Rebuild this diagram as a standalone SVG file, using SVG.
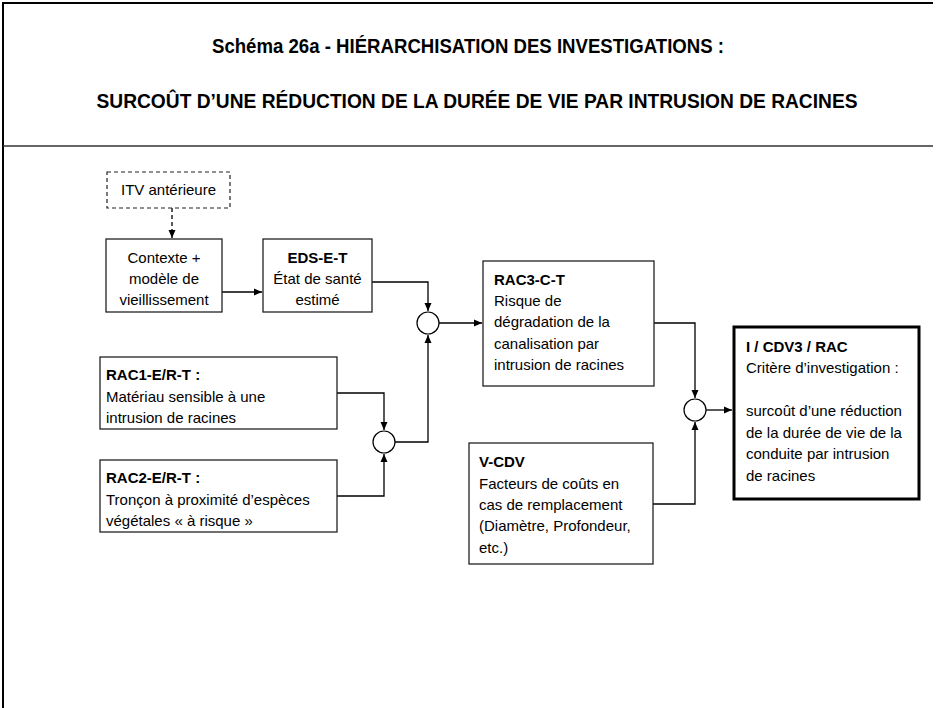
<svg xmlns="http://www.w3.org/2000/svg" width="936" height="708" viewBox="0 0 936 708">
<style>
.t{font-family:"Liberation Sans",Arial,sans-serif;font-size:15px;fill:#000}
.b{font-weight:bold}
.title{font-family:"Liberation Sans",Arial,sans-serif;font-size:20px;font-weight:bold;fill:#000}
.box{fill:#fff;stroke:#222;stroke-width:1.3}
.dash{fill:#fff;stroke:#222;stroke-width:1.2;stroke-dasharray:4,3}
.thick{fill:#fff;stroke:#000;stroke-width:3}
.c{fill:#fff;stroke:#000;stroke-width:1.2}
.ln{fill:none;stroke:#000;stroke-width:1.3}
</style>
<defs>
<marker id="ah" viewBox="0 0 8 8" refX="8" refY="4" markerWidth="8" markerHeight="8" markerUnits="userSpaceOnUse" orient="auto">
<path d="M0,0.5 L8,4 L0,7.5 Z" fill="#000"/>
</marker>
</defs>
<rect width="936" height="708" fill="#fff"/>
<g id="frame">
<line x1="3" y1="3" x2="933" y2="3" stroke="#000" stroke-width="2"/>
<line x1="3" y1="2" x2="3" y2="708" stroke="#000" stroke-width="2"/>
<line x1="3" y1="146" x2="933" y2="146" stroke="#333" stroke-width="1.5"/>
<text class="title" x="468" y="53" text-anchor="middle" textLength="512" lengthAdjust="spacingAndGlyphs">Schéma 26a - HIÉRARCHISATION DES INVESTIGATIONS :</text>
<text class="title" x="477" y="108" text-anchor="middle" textLength="761" lengthAdjust="spacingAndGlyphs">SURCOÛT D’UNE RÉDUCTION DE LA DURÉE DE VIE PAR INTRUSION DE RACINES</text>
</g>
<g id="connectors">
<path class="ln" d="M172,208 V238" stroke-dasharray="4,3" marker-end="url(#ah)"/>
<path class="ln" d="M222,292 H262" marker-end="url(#ah)"/>
<path class="ln" d="M372,282 H428 V311" marker-end="url(#ah)"/>
<path class="ln" d="M439,323 H482" marker-end="url(#ah)"/>
<path class="ln" d="M337,393 H384 V430" marker-end="url(#ah)"/>
<path class="ln" d="M337,496 H384 V454" marker-end="url(#ah)"/>
<path class="ln" d="M395,442 H428 V335" marker-end="url(#ah)"/>
<path class="ln" d="M654,323 H695 V398" marker-end="url(#ah)"/>
<path class="ln" d="M653,504 H695 V422" marker-end="url(#ah)"/>
<path class="ln" d="M706,410 H732" marker-end="url(#ah)"/>
</g>
<g id="itv">
<rect class="dash" x="107" y="172" width="123" height="36"/>
<text class="t" x="168.5" y="195" text-anchor="middle">ITV antérieure</text>
</g>
<g id="contexte">
<rect class="box" x="106" y="239" width="116" height="73"/>
<text class="t" x="164" y="263" text-anchor="middle">Contexte +</text>
<text class="t" x="164" y="284" text-anchor="middle">modèle de</text>
<text class="t" x="164" y="305" text-anchor="middle">vieillissement</text>
</g>
<g id="eds">
<rect class="box" x="263" y="239" width="109" height="73"/>
<text class="t b" x="317.5" y="263" text-anchor="middle">EDS-E-T</text>
<text class="t" x="317.5" y="284" text-anchor="middle">État de santé</text>
<text class="t" x="317.5" y="305" text-anchor="middle">estimé</text>
</g>
<g id="circle1"><circle class="c" cx="428" cy="323" r="11"/></g>
<g id="rac3">
<rect class="box" x="483" y="261" width="171" height="125"/>
<text class="t b" x="494" y="285">RAC3-C-T</text>
<text class="t" x="494" y="306">Risque de</text>
<text class="t" x="494" y="327">dégradation de la</text>
<text class="t" x="494" y="349">canalisation par</text>
<text class="t" x="494" y="370">intrusion de racines</text>
</g>
<g id="rac1">
<rect class="box" x="100" y="357" width="237" height="72"/>
<text class="t b" x="106" y="380">RAC1-E/R-T :</text>
<text class="t" x="106" y="402">Matériau sensible à une</text>
<text class="t" x="106" y="423">intrusion de racines</text>
</g>
<g id="rac2">
<rect class="box" x="100" y="460" width="237" height="72"/>
<text class="t b" x="106" y="483">RAC2-E/R-T :</text>
<text class="t" x="106" y="505">Tronçon à proximité d’espèces</text>
<text class="t" x="106" y="526">végétales « à risque »</text>
</g>
<g id="circle3"><circle class="c" cx="384" cy="442" r="11"/></g>
<g id="vcdv">
<rect class="box" x="469" y="443" width="184" height="121"/>
<text class="t b" x="479" y="467">V-CDV</text>
<text class="t" x="479" y="489">Facteurs de coûts en</text>
<text class="t" x="479" y="510">cas de remplacement</text>
<text class="t" x="479" y="531">(Diamètre, Profondeur,</text>
<text class="t" x="479" y="553">etc.)</text>
</g>
<g id="circle2"><circle class="c" cx="695" cy="410" r="11"/></g>
<g id="icdv3">
<rect class="thick" x="734" y="327" width="185" height="172"/>
<text class="t b" x="746" y="352">I / CDV3 / RAC</text>
<text class="t" x="746" y="373">Critère d’investigation :</text>
<text class="t" x="746" y="416">surcoût d’une réduction</text>
<text class="t" x="746" y="438">de la durée de vie de la</text>
<text class="t" x="746" y="459">conduite par intrusion</text>
<text class="t" x="746" y="481">de racines</text>
</g>
</svg>
